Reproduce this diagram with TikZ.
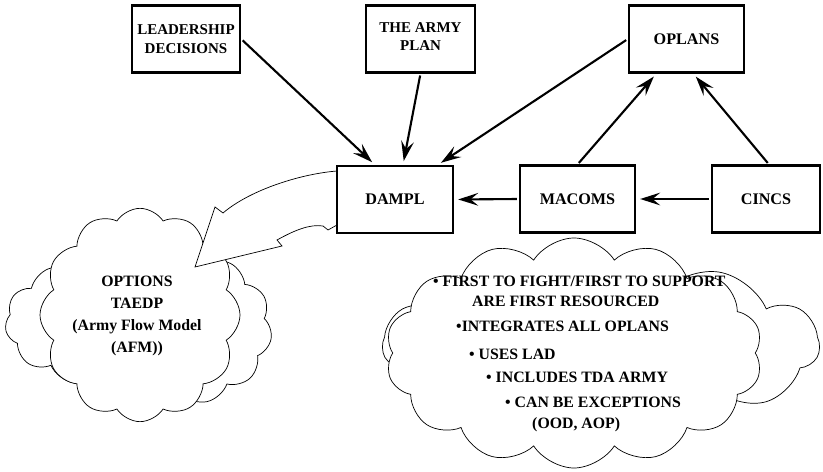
\documentclass[tikz,border=0pt]{standalone}
\usepackage{fontspec}
\setmainfont{Liberation Serif}
\usetikzlibrary{arrows.meta, shapes.symbols}

\begin{document}
\begin{tikzpicture}[x=0.3mm, y=-0.3mm,
  font=\fontsize{13.8}{15.6}\selectfont\bfseries,
  box/.style={rectangle, draw, line width=2pt, fill=white,
              minimum height=20mm, align=center, inner sep=2pt},
  twoline/.style={font=\fontsize{12.8}{15.6}\selectfont\bfseries},
  flow/.style={-{Stealth[length=6mm, width=3.8mm, inset=2.3mm]},
               line width=1.8pt, shorten >=1.2mm, shorten <=0.6mm},
  puff/.style={cloud, cloud puffs=11, cloud puff arc=115,
               cloud ignores aspect, draw, line width=0.6pt, fill=white},
  cloudtext/.style={font=\fontsize{13.5}{18.8}\selectfont\bfseries, inner sep=0pt}]
  \useasboundingbox (0,0) rectangle (823,472);

  % options cloud, two layers behind the front one
  \node[puff, minimum width=57mm, minimum height=38mm] (optl) at (100,322) {};
  \node[puff, minimum width=54mm, minimum height=46mm] (optr) at (182,328) {};
  \node[puff, cloud puffs=12, minimum width=60mm, minimum height=64mm] (options) at (140,315) {};
  \node[cloudtext, align=center] (optionstext) at (137,316)
    {OPTIONS\\TAEDP\\(Army Flow Model\\(AFM))};

  % notes cloud
  \node[puff, minimum width=131mm, minimum height=52mm] (notesback) at (601,345) {};
  \node[puff, cloud puffs=14, minimum width=113mm, minimum height=69mm,
        shape border rotate=5] (notes) at (574,353) {};
  \foreach \x/\y/\txt [count=\i] in {433/287/{• FIRST TO FIGHT/FIRST TO SUPPORT},
      472/307/{ARE FIRST RESOURCED}, 456/331.5/{•INTEGRATES ALL OPLANS},
      469/359/{• USES LAD}, 486/382.5/{• INCLUDES TDA ARMY},
      505/407/{• CAN BE EXCEPTIONS}, 532/428/{(OOD, AOP)}} {
    \node[cloudtext, anchor=base west] (note\i) at (\x,\y) {\txt};
  }

  % hollow arrow out of DAMPL
  \draw[line width=0.6pt, fill=white] (337,171) .. controls (300,174) and (250,190) .. (223,213)
    -- (215,207) -- (195,267) -- (282,246) -- (277,240)
    .. controls (295,230) and (310,224) .. (323,226) -- (328,230) -- (337,225);

  % boxes
  \node[box, twoline, minimum width=32.4mm] (lead) at (186,39) {LEADERSHIP\\DECISIONS};
  \node[box, twoline, minimum width=32.7mm, text depth=1.5mm] (plan) at (420.5,39) {THE ARMY\\PLAN};
  \node[box, minimum width=34.5mm] (oplans) at (686.5,39) {OPLANS};
  \node[box, minimum width=34.8mm] (dampl) at (395,199.5) {DAMPL};
  \node[box, minimum width=34.5mm] (macoms) at (577.5,199) {MACOMS};
  \node[box, minimum width=32.4mm] (cincs) at (766,199) {CINCS};

  \draw[flow] (lead.east) -- (dampl.120);
  \draw[flow] (plan.south) -- (dampl.77);
  \draw[flow] (oplans.west) -- (dampl.39);
  \draw[flow] (macoms.north) -- (oplans.229);
  \draw[flow] (cincs.85) -- (oplans.281);
  \draw[flow] (macoms.west) -- (dampl.east);
  \draw[flow] (cincs.west) -- (macoms.east);
\end{tikzpicture}
\end{document}
